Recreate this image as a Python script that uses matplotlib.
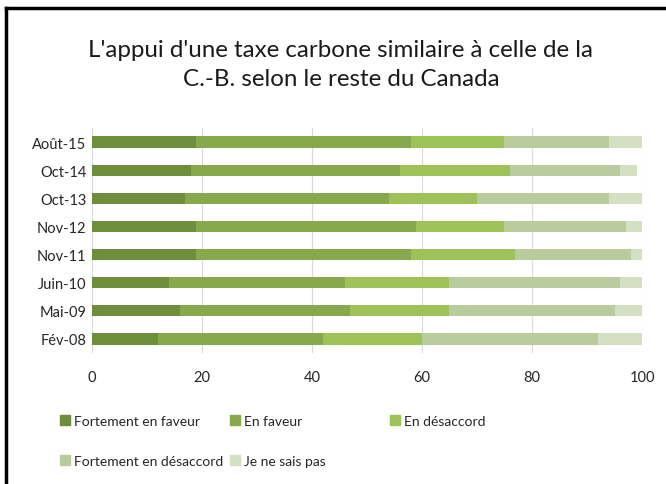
import numpy as np
import matplotlib
matplotlib.use("Agg")
import matplotlib.pyplot as plt
from matplotlib.lines import Line2D
from matplotlib.patches import Patch

# ====================== Données ======================
periodes = ["Fév-08", "Mai-09", "Juin-10", "Nov-11", "Nov-12", "Oct-13", "Oct-14", "Août-15"]
fortement_faveur = [12, 16, 14, 19, 19, 17, 18, 19]
en_faveur = [30, 31, 32, 39, 40, 37, 38, 39]
en_desaccord = [18, 18, 19, 19, 16, 16, 20, 17]
fortement_desaccord = [32, 30, 31, 21, 22, 24, 20, 19]
ne_sais_pas = [8, 5, 4, 2, 3, 6, 3, 6]

etiquettes = ["Fortement en faveur", "En faveur", "En désaccord",
              "Fortement en désaccord", "Je ne sais pas"]
couleurs = ["#6f8e3b", "#87a94b", "#9dc257", "#b9cc9d", "#d3e0c1"]

plt.rcParams['font.family'] = ['Lato', 'DejaVu Sans']

fig = plt.figure(figsize=(6.66, 4.85), dpi=100)
ax = fig.add_axes([0.138, 0.270, 0.826, 0.464])

series = [fortement_faveur, en_faveur, en_desaccord, fortement_desaccord, ne_sais_pas]
y = np.arange(len(periodes))
gauche = np.zeros(len(periodes))
for vals, coul in zip(series, couleurs):
    ax.barh(y, vals, left=gauche, height=0.4, color=coul, zorder=3)
    gauche += np.array(vals)

ax.set_xlim(0, 100)
ax.set_ylim(-0.5, len(periodes) - 0.5)
ax.set_xticks([0, 20, 40, 60, 80, 100])
ax.set_yticks(y)
ax.set_yticklabels(periodes)
ax.tick_params(axis='both', length=0, labelsize=10.5, colors="#262626")
ax.tick_params(axis='x', pad=12)
ax.tick_params(axis='y', pad=4)
ax.grid(axis='x', color="#d9d9d9", linewidth=0.8, zorder=0)
for s in ax.spines.values():
    s.set_visible(False)

fig.text(0.512, 0.866, "L'appui d'une taxe carbone similaire à celle de la\nC.-B. selon le reste du Canada",
         ha='center', va='center', fontsize=17.4, linespacing=1.5, color="#1a1a1a")

# légende placée entrée par entrée (disposition Excel)
positions = [(0.090, 0.130), (0.346, 0.130), (0.586, 0.130),
             (0.090, 0.048), (0.346, 0.048)]
for lab, coul, (px, py) in zip(etiquettes, couleurs, positions):
    fig.legend(handles=[Patch(color=coul, label=lab)], loc='center left',
               bbox_to_anchor=(px, py), frameon=False, fontsize=10,
               handlelength=0.7, handleheight=0.7, handletextpad=0.3,
               borderpad=0, borderaxespad=0, labelcolor="#262626")

# cadre noir (gauche et haut)
fig.add_artist(Line2D([0.009, 0.009], [0.0, 0.982], color='black', linewidth=2.5))
fig.add_artist(Line2D([0.009, 1.0], [0.982, 0.982], color='black', linewidth=2.5))

fig.savefig("out.png", dpi=100)
